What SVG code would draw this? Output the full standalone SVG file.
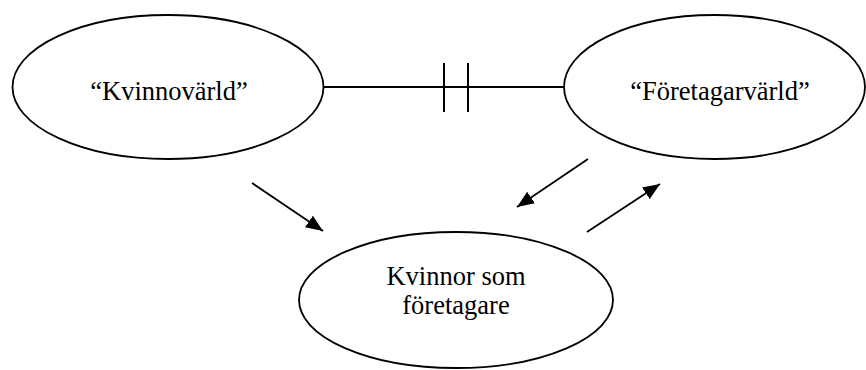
<svg xmlns="http://www.w3.org/2000/svg" width="866" height="370" viewBox="0 0 866 370">
<style>
.node ellipse{fill:#fff;stroke:#000;stroke-width:1.8}
.node text{font-size:26.5px;fill:#000;text-anchor:middle}
.conn line{stroke:#000;stroke-width:1.8}
</style>
<defs>
<marker id="arr" markerUnits="userSpaceOnUse" markerWidth="19" markerHeight="15" refX="17" refY="7" orient="auto">
<path d="M0,0 L17,7 L0,14 Z" fill="#000"/>
</marker>
</defs>
<rect width="866" height="370" fill="#fff"/>
<g id="kvinnovarld" class="node" font-family="'Liberation Serif', 'Times New Roman', serif">
<ellipse cx="168" cy="87" rx="155.5" ry="72"/>
<text x="169" y="100">“Kvinnovärld”</text>
</g>
<g id="foretagarvarld" class="node" font-family="'Liberation Serif', 'Times New Roman', serif">
<ellipse cx="714.5" cy="87" rx="150.5" ry="72"/>
<text x="720" y="100">“Företagarvärld”</text>
</g>
<g id="kvinnor-som-foretagare" class="node" font-family="'Liberation Serif', 'Times New Roman', serif">
<ellipse cx="456" cy="300" rx="157" ry="68"/>
<text x="456" y="285">Kvinnor som</text>
<text x="456" y="314">företagare</text>
</g>
<g id="connectors" class="conn">
<line x1="323" y1="87" x2="564" y2="87"/>
<line x1="444" y1="63" x2="444" y2="112" style="stroke-width:2"/>
<line x1="468" y1="63" x2="468" y2="112" style="stroke-width:2"/>
<line x1="252" y1="183" x2="323" y2="231" marker-end="url(#arr)"/>
<line x1="588" y1="159" x2="517" y2="207" marker-end="url(#arr)"/>
<line x1="587" y1="232" x2="660" y2="184" marker-end="url(#arr)"/>
</g>
</svg>
